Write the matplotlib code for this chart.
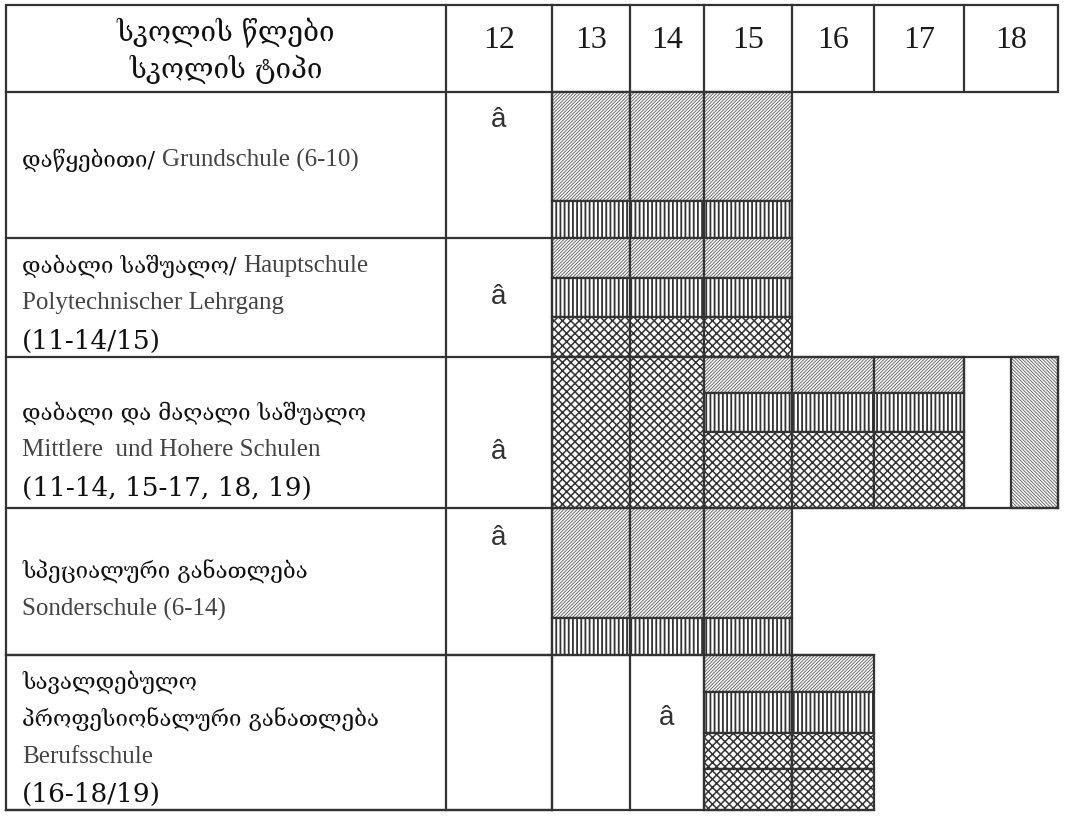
import matplotlib
matplotlib.use("Agg")
import matplotlib.pyplot as plt
from matplotlib.patches import Rectangle

# -------- data --------
ages = [12, 13, 14, 15, 16, 17, 18]
header_label = ["სკოლის წლები", "სკოლის ტიპი"]

school_types = [
    ["დაწყებითი/ Grundschule (6-10)"],
    ["დაბალი საშუალო/ Hauptschule", "Polytechnischer Lehrgang", "(11-14/15)"],
    ["დაბალი და მაღალი საშუალო", "Mittlere  und Hohere Schulen", "(11-14, 15-17, 18, 19)"],
    ["სპეციალური განათლება", "Sonderschule (6-14)"],
    ["სავალდებულო", "პროფესიონალური განათლება", "Berufsschule", "(16-18/19)"],
]

# age at which the "â" mark stands in each row
mark_age = [12, 12, 12, 12, 14]

# segments (pattern, share) per school type and age, top to bottom
attendance = [
    {13: [("diag", 3), ("vert", 1)], 14: [("diag", 3), ("vert", 1)], 15: [("diag", 3), ("vert", 1)]},
    {13: [("diag", 1), ("vert", 1), ("check", 1)], 14: [("diag", 1), ("vert", 1), ("check", 1)],
     15: [("diag", 1), ("vert", 1), ("check", 1)]},
    {13: [("check", 1)], 14: [("check", 1)],
     15: [("diag", 1), ("vert", 1.1), ("check", 2.1)], 16: [("diag", 1), ("vert", 1.1), ("check", 2.1)],
     17: [("diag", 1), ("vert", 1.1), ("check", 2.1)], 18: [("back", 1)]},
    {13: [("diag", 3), ("vert", 1)], 14: [("diag", 3), ("vert", 1)], 15: [("diag", 3), ("vert", 1)]},
    {15: [("diag", 1), ("vert", 1.1), ("check", 0.95), ("check", 1.1)],
     16: [("diag", 1), ("vert", 1.1), ("check", 0.95), ("check", 1.1)]},
]

# -------- layout --------
col_edges = [6, 446, 552, 630, 704, 792, 874, 964, 1058]
row_edges = [5, 92, 238, 357, 508, 655, 810]
label_first_y = [160, 266, 413, 572, 682]
line_step = 37.5
mark_y = [120, 297, 452, 538, 718]
bar18_start = 0.5  # col 18 bar begins half way

patterns = {
    "diag": ("/" * 10, "#5f5f5f", 0.65),
    "vert": ("||||", "#333333", 1.3),
    "check": ("xxxx", "#333333", 1.1),
    "back": ("\\" * 10, "#5f5f5f", 0.65),
}
LINE = "#333333"
LW = 1.6
serif = ["Liberation Serif", "DejaVu Serif", "DejaVu Sans"]
geo = ["DejaVu Serif", "DejaVu Sans"]

fig = plt.figure(figsize=(10.7, 8.21), dpi=100)
ax = fig.add_axes([0, 0, 1, 1])
ax.set_xlim(0, 1070)
ax.set_ylim(821, 0)
ax.axis("off")


def col_span(age):
    i = ages.index(age) + 1
    return col_edges[i], col_edges[i + 1]


def hline(y, x0, x1):
    ax.plot([x0, x1], [y, y], color=LINE, lw=LW, solid_capstyle="projecting")


def vline(x, y0, y1):
    ax.plot([x, x], [y0, y1], color=LINE, lw=LW, solid_capstyle="projecting")


def is_geo(ch):
    return "\u10a0" <= ch <= "\u10ff"


def label_line(y, txt):
    if is_geo(txt[0]):
        # georgian part, then any latin part after it
        k = 0
        while k < len(txt) and not (txt[k].isascii() and txt[k].isalpha()):
            k += 1
        t = ax.text(22, y, txt[:k], ha="left", va="center", family=geo, fontsize=16, color="#111")
        if k < len(txt):
            ax.annotate(txt[k:], xy=(1, 0.5), xycoords=t, ha="left", va="center",
                        family=serif, fontsize=18, color="#444")
    elif txt[0] == "(":
        ax.text(22, y, txt, ha="left", va="center", family=geo, fontsize=19, color="#111")
    else:
        ax.text(22, y, txt, ha="left", va="center", family=serif, fontsize=18, color="#444")


# header
ax.add_patch(Rectangle((col_edges[0], row_edges[0]), col_edges[-1] - col_edges[0],
                       row_edges[1] - row_edges[0], fill=False, ec=LINE, lw=LW))
for x in col_edges[1:-1]:
    vline(x, row_edges[0], row_edges[1])
ax.text((col_edges[0] + col_edges[1]) / 2, 33, header_label[0], ha="center", va="center",
        family=geo, fontsize=20, color="#111")
ax.text((col_edges[0] + col_edges[1]) / 2, 69, header_label[1], ha="center", va="center",
        family=geo, fontsize=20, color="#111")
for a in ages:
    x0, x1 = col_span(a)
    ax.text((x0 + x1) / 2, 41, str(a), ha="center", va="center", family=serif,
            fontsize=23, color="#1a1a1a")

# label column and age 12 column
for x in col_edges[:3]:
    vline(x, row_edges[1], row_edges[-1])
for y in row_edges[2:]:
    hline(y, col_edges[0], col_edges[2])

# row labels and marks
for r, lines in enumerate(school_types):
    for k, txt in enumerate(lines):
        label_line(label_first_y[r] + k * line_step, txt)
    x0, x1 = col_span(mark_age[r])
    ax.text((x0 + x1) / 2, mark_y[r], "â", ha="center", va="center",
            family="Liberation Sans", fontsize=20, color="#333")

# attendance blocks
for r, row in enumerate(attendance):
    y_top, y_bot = row_edges[r + 1], row_edges[r + 2]
    for age, segs in row.items():
        x0, x1 = col_span(age)
        if age == 18:
            x0 = x0 + (x1 - x0) * bar18_start
        total = sum(w for _, w in segs)
        y = y_top
        for name, w in segs:
            h = (y_bot - y_top) * w / total
            hatch, hc, hlw = patterns[name]
            plt.rcParams["hatch.linewidth"] = hlw
            p = Rectangle((x0, y), x1 - x0, h, facecolor="white", edgecolor=hc, hatch=hatch, lw=0)
            if hasattr(p, "set_hatch_linewidth"):
                p.set_hatch_linewidth(hlw)
            ax.add_patch(p)
            ax.add_patch(Rectangle((x0, y), x1 - x0, h, fill=False, ec=LINE, lw=LW))
            y += h

# row 3 frame extends to the right edge, row 5 empty cells
hline(row_edges[3], col_edges[2], col_edges[-1])
hline(row_edges[4], col_edges[2], col_edges[-1])
vline(col_edges[-2], row_edges[3], row_edges[4])
vline(col_edges[-1], row_edges[3], row_edges[4])
for x in col_edges[2:6]:
    vline(x, row_edges[5], row_edges[6])
hline(row_edges[6], col_edges[0], col_edges[6])
hline(row_edges[5], col_edges[0], col_edges[6])

fig.savefig("out.png", dpi=100, facecolor="white")
